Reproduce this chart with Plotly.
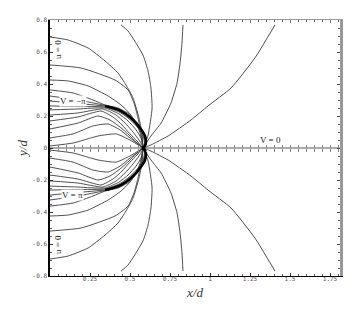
import plotly.graph_objects as go

# upper-half lines (the lower half is the mirror image, y -> -y)
THICK_X = [0.344, 0.394, 0.444, 0.506, 0.563, 0.594, 0.600, 0.594, 0.575]
THICK_Y = [0.263, 0.250, 0.231, 0.188, 0.125, 0.075, 0.038, 0.013, 0.000]

# lines fanning out from the cusp
F1_X = [0.581, 0.631, 0.694, 0.756, 0.794, 0.813, 0.825, 0.831]
F1_Y = [0.000, 0.075, 0.156, 0.281, 0.406, 0.531, 0.656, 0.769]
F2_X = [0.581, 0.613, 0.638, 0.631, 0.613, 0.581, 0.488, 0.444]
F2_Y = [0.000, 0.081, 0.250, 0.375, 0.481, 0.581, 0.731, 0.769]
F3_X = [0.581, 0.631, 0.738, 0.881, 0.988, 1.131, 1.281, 1.406]
F3_Y = [0.000, 0.019, 0.075, 0.175, 0.263, 0.375, 0.563, 0.769]

# lines coming in from the left edge
L0_X = [0.000, 0.113, 0.238, 0.344, 0.425, 0.475, 0.519, 0.556, 0.575, 0.581]
L0_Y = [0.694, 0.675, 0.625, 0.544, 0.469, 0.394, 0.313, 0.188, 0.094, 0.000]
L1_X = [0.000, 0.194, 0.406, 0.488, 0.525, 0.550, 0.569, 0.581]
L1_Y = [0.519, 0.500, 0.425, 0.363, 0.281, 0.188, 0.094, 0.000]
L2_X = [0.000, 0.113, 0.238, 0.363, 0.444, 0.500, 0.538, 0.563, 0.575, 0.581]
L2_Y = [0.425, 0.419, 0.388, 0.325, 0.269, 0.213, 0.156, 0.094, 0.038, 0.000]
L3_X = [0.000, 0.144, 0.269, 0.344, 0.425, 0.494, 0.550, 0.581, 0.594, 0.581]
L3_Y = [0.363, 0.344, 0.300, 0.269, 0.250, 0.213, 0.150, 0.088, 0.038, 0.000]
L4_X = [0.000, 0.175, 0.344, 0.438, 0.500, 0.556, 0.588, 0.597, 0.581]
L4_Y = [0.325, 0.300, 0.266, 0.241, 0.200, 0.138, 0.081, 0.031, 0.000]
L5_X = [0.000, 0.175, 0.344]
L5_Y = [0.294, 0.278, 0.263]
L6_X = [0.000, 0.175, 0.344, 0.438, 0.500, 0.556, 0.584, 0.591, 0.581]
L6_Y = [0.263, 0.259, 0.256, 0.222, 0.178, 0.119, 0.069, 0.025, 0.000]
L7_X = [0.000, 0.175, 0.344, 0.431, 0.488, 0.538, 0.569, 0.581, 0.581]
L7_Y = [0.238, 0.244, 0.250, 0.213, 0.169, 0.113, 0.063, 0.019, 0.000]
L8_X = [0.000, 0.175, 0.331, 0.413, 0.469, 0.519, 0.556, 0.575, 0.581]
L8_Y = [0.206, 0.219, 0.244, 0.206, 0.156, 0.100, 0.050, 0.019, 0.000]
L9_X = [0.000, 0.175, 0.319, 0.394, 0.450, 0.500, 0.544, 0.569, 0.581]
L9_Y = [0.169, 0.194, 0.231, 0.194, 0.144, 0.088, 0.044, 0.013, 0.000]
L10_X = [0.000, 0.175, 0.300, 0.375, 0.438, 0.494, 0.538, 0.569, 0.581]
L10_Y = [0.119, 0.156, 0.200, 0.175, 0.131, 0.081, 0.038, 0.013, 0.000]
L11_X = [0.000, 0.144, 0.269, 0.363, 0.438, 0.500, 0.550, 0.581]
L11_Y = [0.063, 0.088, 0.138, 0.150, 0.113, 0.063, 0.025, 0.000]
L12_X = [0.000, 0.144, 0.300, 0.413, 0.500, 0.581]
L12_Y = [0.013, 0.031, 0.075, 0.088, 0.050, 0.000]

THIN_LINES = [
    (F1_X, F1_Y), (F2_X, F2_Y), (F3_X, F3_Y),
    (L0_X, L0_Y), (L1_X, L1_Y), (L2_X, L2_Y), (L3_X, L3_Y), (L4_X, L4_Y),
    (L5_X, L5_Y), (L6_X, L6_Y), (L7_X, L7_Y), (L8_X, L8_Y), (L9_X, L9_Y),
    (L10_X, L10_Y), (L11_X, L11_Y), (L12_X, L12_Y),
]

X_TICKS = [0.25, 0.5, 0.75, 1, 1.25, 1.5, 1.75]
X_TICKTEXT = ["0.25", "0.5", "0.75", "1", "1.25", "1.5", "1.75"]
Y_TICKS = [-0.8, -0.6, -0.4, -0.2, 0, 0.2, 0.4, 0.6, 0.8]
Y_TICKTEXT = ["-0.8", "-0.6", "-0.4", "-0.2", "0", "0.2", "0.4", "0.6", "0.8"]

X_RANGE = [0, 1.8125]
Y_RANGE = [-0.8, 0.8]

fig = go.Figure()

for xs, ys in THIN_LINES:
    for sign in (1, -1):
        fig.add_trace(go.Scatter(
            x=xs, y=[sign * v for v in ys],
            mode='lines', line=dict(color='#3c3c3c', width=0.9, shape='spline', smoothing=0.5),
            hoverinfo='skip', showlegend=False
        ))

for sign in (1, -1):
    fig.add_trace(go.Scatter(
        x=THICK_X, y=[sign * v for v in THICK_Y],
        mode='lines', line=dict(color='black', width=2.6, shape='spline', smoothing=0.7),
        hoverinfo='skip', showlegend=False
    ))

# empty traces so the extra frame / zero-line axes get drawn
for xa, ya in (('x2', 'y'), ('x', 'y2'), ('x3', 'y'), ('x4', 'y')):
    fig.add_trace(go.Scatter(x=[None], y=[None], xaxis=xa, yaxis=ya,
                             mode='lines', hoverinfo='skip', showlegend=False))

tick_font = dict(family='DejaVu Sans Mono', size=6, color='#555')
label_font = dict(family='Liberation Serif', size=9, color='#222')

minor_in = dict(dtick=0.05, tick0=0, ticks='inside', ticklen=2, tickcolor='#666')

fig.update_layout(
    width=352, height=312,
    margin=dict(l=42, r=20, t=12, b=44),
    paper_bgcolor='white', plot_bgcolor='white',
    xaxis=dict(
        range=X_RANGE, showgrid=False, zeroline=False, automargin=False,
        showline=True, linecolor='black', linewidth=1,
        ticks='inside', ticklen=3, tickcolor='#333',
        tickvals=X_TICKS, ticktext=X_TICKTEXT, tickfont=tick_font,
        ticklabelstandoff=-3,
        minor=minor_in,
        title=dict(text='<i>x/d</i>', font=dict(family='Liberation Serif', size=13, color='#333'), standoff=6),
    ),
    yaxis=dict(
        range=Y_RANGE, showgrid=False, automargin=False,
        zeroline=True, zerolinecolor='#aaa', zerolinewidth=2,
        showline=True, linecolor='black', linewidth=1.5,
        ticks='inside', ticklen=3, tickcolor='#333',
        tickvals=Y_TICKS, ticktext=Y_TICKTEXT, tickfont=tick_font,
        minor=minor_in,
        title=dict(text='<i>y/d</i>', font=dict(family='Liberation Serif', size=13, color='#333'), standoff=2),
    ),
    xaxis2=dict(
        range=X_RANGE, overlaying='x', side='top', anchor='y', automargin=False,
        showgrid=False, zeroline=False, showline=True, linecolor='#999', linewidth=1,
        ticks='inside', ticklen=3, tickcolor='#777', tickvals=X_TICKS, showticklabels=False,
        minor=minor_in,
    ),
    yaxis2=dict(
        range=Y_RANGE, overlaying='y', side='right', anchor='x', automargin=False,
        showgrid=False, zeroline=False, showline=True, linecolor='#999', linewidth=2.5,
        ticks='inside', ticklen=3, tickcolor='#555', tickvals=Y_TICKS, showticklabels=False,
        minor=minor_in,
    ),
    # ticks along the y = 0 line
    xaxis3=dict(
        range=X_RANGE, overlaying='x', anchor='free', position=0.5, automargin=False,
        showgrid=False, zeroline=False, showline=False, showticklabels=False,
        ticks='inside', ticklen=3, tickcolor='#888', tickvals=X_TICKS,
        minor=dict(dtick=0.05, tick0=0, ticks='inside', ticklen=3, tickcolor='#888'),
    ),
    xaxis4=dict(
        range=X_RANGE, overlaying='x', anchor='free', position=0.5, automargin=False,
        showgrid=False, zeroline=False, showline=False, showticklabels=False,
        ticks='outside', ticklen=3, tickcolor='#888', tickvals=X_TICKS,
        minor=dict(dtick=0.05, tick0=0, ticks='outside', ticklen=3, tickcolor='#888'),
    ),
)

fig.add_annotation(x=0.145, y=0.294, text='V = −π', showarrow=False,
                   font=label_font, bgcolor='white', borderpad=0)
fig.add_annotation(x=0.14, y=-0.294, text='V = π', showarrow=False,
                   font=label_font, bgcolor='white', borderpad=0)
fig.add_annotation(x=1.381, y=0.05, text='V = 0', showarrow=False, font=label_font)
fig.add_annotation(x=0.05, y=0.613, text='u = 0', textangle=-90, showarrow=False, font=label_font)
fig.add_annotation(x=0.05, y=-0.606, text='u = 0', textangle=-90, showarrow=False, font=label_font)

fig.write_html("out.html")
